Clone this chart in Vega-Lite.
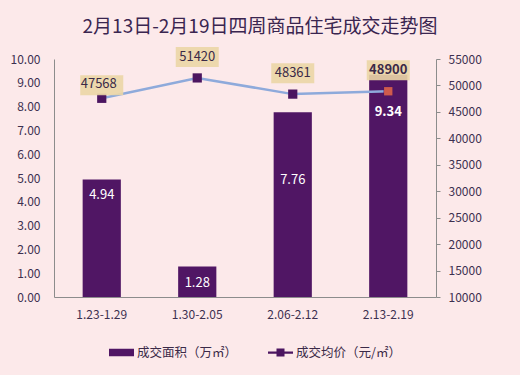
{
  "$schema": "https://vega.github.io/schema/vega-lite/v6.json",
  "width": 382,
  "height": 238,
  "autosize": {"type": "none"},
  "padding": {"left": 54, "top": 59, "right": 84, "bottom": 78},
  "background": "#fce9ea",
  "config": {
    "font": "Noto Sans CJK SC",
    "view": {"stroke": null},
    "axis": {"grid": false, "labelFont": "Noto Sans CJK SC", "labelFontSize": 12, "labelColor": "#3c3050", "domainColor": "#8c8c8c", "tickColor": "#8c8c8c", "title": null}
  },
  "title": {
    "text": "2月13日-2月19日四周商品住宅成交走势图",
    "fontSize": 19,
    "fontWeight": "normal",
    "color": "#3a2550",
    "anchor": "middle",
    "frame": "group",
    "dx": 15,
    "offset": 10
  },
  "data": {
    "values": [
      {"week": "1.23-1.29", "area": 4.94, "price": 47568},
      {"week": "1.30-2.05", "area": 1.28, "price": 51420},
      {"week": "2.06-2.12", "area": 7.76, "price": 48361},
      {"week": "2.13-2.19", "area": 9.34, "price": 48900}
    ]
  },
  "encoding": {
    "x": {
      "field": "week",
      "type": "nominal",
      "sort": null,
      "scale": {"paddingInner": 0.6, "paddingOuter": 0.3},
      "axis": {"labelAngle": 0, "ticks": false, "labelPadding": 12, "title": null}
    }
  },
  "layer": [
    {
      "encoding": {
        "y": {
          "field": "area",
          "type": "quantitative",
          "scale": {"domain": [0, 10], "nice": false},
          "axis": {"orient": "left", "format": ".2f", "values": [0,1,2,3,4,5,6,7,8,9,10], "ticks": false, "labelPadding": 14, "title": null}
        }
      },
      "layer": [
        {
          "mark": {"type": "bar"},
          "encoding": {
            "color": {
              "datum": "成交面积（万㎡）",
              "scale": {"domain": ["成交面积（万㎡）", "成交均价（元/㎡）"], "range": ["#501664", "#4b1560"]},
              "legend": {
                "title": null,
                "orient": "none",
                "legendX": 55,
                "legendY": 281,
                "direction": "horizontal",
                "symbolSize": 625,
                "symbolStrokeWidth": 0,
                "labelFont": "Noto Sans CJK SC",
                "labelFontSize": 12.5,
                "labelColor": "#3b2a48",
                "labelOffset": 3,
                "columnPadding": 30,
                "encode": {
                  "symbols": {
                    "update": {
                      "shape": {"signal": "datum.value == '成交面积（万㎡）' ? 'M-1,-0.3H1V0.3H-1Z' : 'M-1,-0.09H1V0.09H-1ZM-0.32,-0.32H0.32V0.32H-0.32Z'"},
                      "strokeWidth": {"value": 0},
                      "opacity": {"value": 1}
                    }
                  }
                }
              }
            }
          }
        },
        {
          "transform": [{"filter": "datum.area < 5"}],
          "mark": {"type": "text", "color": "white", "fontSize": 13, "baseline": "middle", "dy": 16},
          "encoding": {"text": {"field": "area", "type": "quantitative", "format": ".2f"}}
        },
        {
          "transform": [{"filter": "datum.area > 7 && datum.area < 8"}],
          "mark": {"type": "text", "color": "white", "fontSize": 13, "baseline": "middle", "dy": 68},
          "encoding": {"text": {"field": "area", "type": "quantitative", "format": ".2f"}}
        },
        {
          "transform": [{"filter": "datum.area > 9"}],
          "mark": {"type": "text", "color": "white", "fontSize": 13, "fontWeight": "bold", "baseline": "middle", "dy": 37},
          "encoding": {"text": {"field": "area", "type": "quantitative", "format": ".2f"}}
        }
      ]
    },
    {
      "encoding": {
        "y": {
          "field": "price",
          "type": "quantitative",
          "scale": {"domain": [10000, 55000], "nice": false, "zero": false},
          "axis": {"orient": "right", "values": [10000,15000,20000,25000,30000,35000,40000,45000,50000,55000], "format": "d", "ticks": true, "tickSize": 4, "labelPadding": 8, "title": null}
        }
      },
      "layer": [
        {
          "mark": {"type": "line", "color": "#8eaadb", "strokeWidth": 2.5}
        },
        {
          "mark": {"type": "point", "shape": "square", "filled": true, "size": 85, "opacity": 1},
          "encoding": {"color": {"datum": "成交均价（元/㎡）"}}
        },
        {
          "transform": [{"filter": "datum.price == 48900"}],
          "mark": {"type": "point", "shape": "square", "filled": true, "size": 70, "opacity": 1, "color": "#cf5b4d"}
        },
        {
          "transform": [{"filter": "datum.price == 47568"}],
          "mark": {"type": "point", "shape": "M-1,-1.07H1V-0.14H-1Z", "filled": true, "size": 1849, "opacity": 0.9, "color": "#ebd6a6", "dx": -3}
        },
        {
          "transform": [{"filter": "datum.price != 47568"}],
          "mark": {"type": "point", "shape": "M-1,-1.44H1V-0.51H-1Z", "filled": true, "size": 1849, "opacity": 0.9, "color": "#ebd6a6"}
        },
        {
          "transform": [{"filter": "datum.price == 47568"}],
          "mark": {"type": "text", "color": "#3b2a48", "fontSize": 13, "baseline": "middle", "dy": -14, "dx": -3},
          "encoding": {"text": {"field": "price", "type": "quantitative", "format": "d"}}
        },
        {
          "transform": [{"filter": "datum.price != 47568 && datum.price != 48900"}],
          "mark": {"type": "text", "color": "#3b2a48", "fontSize": 13, "baseline": "middle", "dy": -21},
          "encoding": {"text": {"field": "price", "type": "quantitative", "format": "d"}}
        },
        {
          "transform": [{"filter": "datum.price == 48900"}],
          "mark": {"type": "text", "color": "#3b2a48", "fontSize": 13, "fontWeight": "bold", "baseline": "middle", "dy": -21},
          "encoding": {"text": {"field": "price", "type": "quantitative", "format": "d"}}
        }
      ]
    }
  ],
  "resolve": {"scale": {"y": "independent"}}
}
